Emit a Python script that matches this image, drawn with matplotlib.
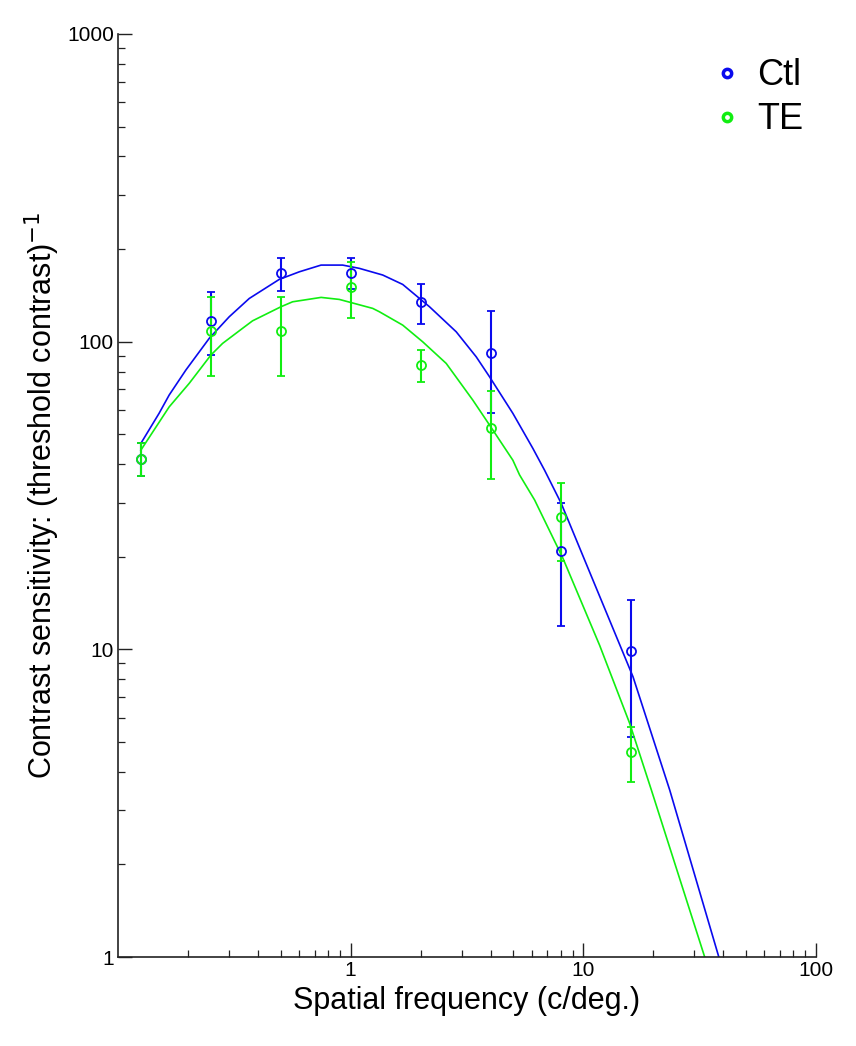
import numpy as np
import matplotlib
matplotlib.use("Agg")
from matplotlib import pyplot as plt
from matplotlib.lines import Line2D
from matplotlib.ticker import FixedLocator, NullFormatter

# spatial frequencies (c/deg) of the measurements
freq = [0.125, 0.25, 0.5, 1, 2, 4, 8, 16]

# control group: mean sensitivity and error bar ends
ctl_mean = [41.6, 116.7, 166.7, 166.7, 134.2, 91.6, 20.9, 9.85]
ctl_hi = [46.7, 144.6, 186.6, 186.6, 154.3, 125.7, 29.8, 14.5]
ctl_lo = [36.6, 90.4, 146.3, 148.0, 113.8, 58.6, 11.9, 5.20]

# TE group
te_mean = [41.6, 108.0, 108.0, 150.4, 83.7, 52.3, 27.0, 4.65]
te_hi = [46.7, 139.3, 139.3, 181.8, 93.9, 69.1, 34.7, 5.60]
te_lo = [36.6, 77.5, 77.5, 119.6, 73.8, 35.7, 19.4, 3.70]

# fitted curves
ctl_fit_x = [0.1252, 0.150, 0.1658, 0.1956, 0.2464, 0.3004, 0.3664, 0.4932,
             0.6013, 0.7459, 0.9238, 1.090, 1.373, 1.674, 2.182, 2.843,
             3.466, 3.955, 4.982, 6.074, 6.823, 8.046, 11.01, 16.37, 23.55, 38.3]
ctl_fit_y = [46.7, 58.5, 67.1, 80.9, 102.5, 120.5, 138.2, 159.4,
             168.7, 177.4, 177.4, 173.1, 164.7, 153.5, 129.9, 107.7,
             89.3, 76.9, 58.5, 45.0, 38.2, 29.8, 16.8, 8.15, 3.49, 1.0]
te_fit_x = [0.1252, 0.1658, 0.2021, 0.2506, 0.2812, 0.3427, 0.3785, 0.5016,
            0.5627, 0.7459, 0.8939, 1.244, 1.329, 1.674, 2.041, 2.575,
            3.351, 3.955, 4.982, 5.324, 6.178, 8.175, 11.77, 15.84, 19.64, 33.3]
te_fit_y = [44.4, 61.4, 73.2, 90.5, 98.7, 110.5, 116.9, 129.9,
            134.8, 139.3, 137.2, 128.3, 125.1, 113.2, 99.9, 85.0,
            64.6, 53.6, 41.2, 36.9, 30.6, 19.8, 10.3, 5.75, 3.49, 1.0]

BLUE = "#0a0aee"
GREEN = "#11ee11"

plt.rcParams["font.family"] = ["Liberation Sans", "DejaVu Sans"]

fig = plt.figure(figsize=(8.56, 10.46), dpi=100)
ax = fig.add_axes([0.138, 0.085, 0.815, 0.8825])


def draw_group(mean, lo, hi, fx, fy, color, label):
    mean = np.array(mean)
    err = np.vstack([mean - np.array(lo), np.array(hi) - mean])
    ax.plot(fx, fy, color=color, lw=1.2)
    ax.errorbar(freq, mean, yerr=err, fmt="o", mfc="none", mec=color,
                mew=1.3, ms=6.5, ecolor=color, elinewidth=1.5,
                capsize=3, capthick=1.5, label=label)


draw_group(ctl_mean, ctl_lo, ctl_hi, ctl_fit_x, ctl_fit_y, BLUE, "Ctl")
draw_group(te_mean, te_lo, te_hi, te_fit_x, te_fit_y, GREEN, "TE")

ax.set_xscale("log")
ax.set_yscale("log")
ax.set_xlim(0.1, 100)
ax.set_ylim(1, 1000)

ax.xaxis.set_major_locator(FixedLocator([1, 10, 100]))
ax.set_xticklabels(["1", "10", "100"])
ax.xaxis.set_minor_locator(FixedLocator(
    [m * d for d in (0.1, 1, 10) for m in range(2, 10)]))
ax.xaxis.set_minor_formatter(NullFormatter())
ax.yaxis.set_major_locator(FixedLocator([1, 10, 100, 1000]))
ax.set_yticklabels(["1", "10", "100", "1000"])
ax.yaxis.set_minor_locator(FixedLocator(
    [m * d for d in (1, 10, 100) for m in range(2, 10)]))
ax.yaxis.set_minor_formatter(NullFormatter())

for s in ("top", "right"):
    ax.spines[s].set_visible(False)
for s in ("left", "bottom"):
    ax.spines[s].set_linewidth(1.2)
    ax.spines[s].set_color("#222222")
ax.tick_params(which="major", direction="in", length=10, width=1.0,
               labelsize=15, pad=3, colors="#222222", labelcolor="black")
ax.tick_params(which="minor", direction="in", length=5, width=0.9,
               colors="#222222")

ax.set_xlabel("Spatial frequency (c/deg.)", fontsize=22, labelpad=4)
ax.set_ylabel("Contrast sensitivity: (threshold contrast)$^{-1}$",
              fontsize=22, labelpad=4)

# legend: markers only, no bars
handles = [Line2D([], [], ls="none", marker="o", mfc="none", mec=BLUE,
                  mew=2.5, ms=6),
           Line2D([], [], ls="none", marker="o", mfc="none", mec=GREEN,
                  mew=2.5, ms=6)]
ax.legend(handles, ["Ctl", "TE"], loc="upper right",
          bbox_to_anchor=(1.029, 1.009), frameon=False, fontsize=26,
          handletextpad=0.35, labelspacing=0.25, handlelength=1.0)

fig.savefig("out.png", dpi=100)
